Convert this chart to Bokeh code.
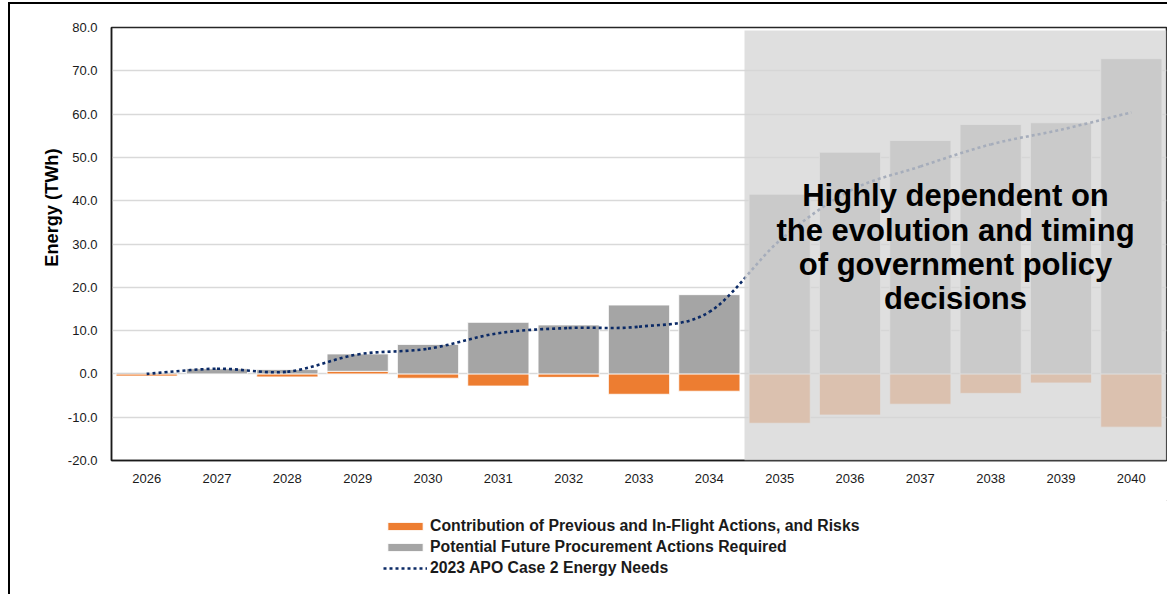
import numpy as np
from bokeh.plotting import figure
from bokeh.layouts import column
from bokeh.models import (Range1d, FixedTicker, NumeralTickFormatter, BoxAnnotation,
                          Label, Legend, LegendItem, ColumnDataSource, Title)
from bokeh.embed import file_html
from bokeh.resources import INLINE

# ---------------- data ----------------
years = [str(y) for y in range(2026, 2041)]
contribution = [-0.5, 0.0, -0.7, 0.6, -1.0, -2.8, -0.8, -4.7, -4.0,
                -11.4, -9.5, -7.0, -4.5, -2.1, -12.3]
procurement = [0.3, 1.2, 1.0, 4.0, 6.8, 11.9, 11.3, 15.9, 18.3,
               41.5, 51.2, 53.9, 57.6, 58.0, 72.8]
energy_needs = [0.0, 1.2, 0.5, 4.5, 5.8, 9.4, 10.6, 10.9, 14.3,
                30.8, 42.3, 47.9, 53.0, 56.4, 60.4]
y_ticks = [-20, -10, 0, 10, 20, 30, 40, 50, 60, 70, 80]
series_names = ["Contribution of Previous and In-Flight Actions, and Risks",
                "Potential Future Procurement Actions Required",
                "2023 APO Case 2 Energy Needs"]
shade_from = "2035"
note_lines = ["Highly dependent on", "the evolution and timing",
              "of government policy", "decisions"]
y_label = "Energy (TWh)"

ORANGE = "#ed7d31"
GRAY = "#a5a5a5"
NAVY = "#0b2a66"
FONT = "Liberation Sans"
W = 1157

n = len(years)
xc = np.arange(n) + 0.5
contrib = np.array(contribution)
proc = np.array(procurement)
gray_bottom = np.maximum(contrib, 0.0)
gray_top = gray_bottom + proc

p = figure(width=W, height=496, x_range=Range1d(0, n), y_range=Range1d(-20, 80),
           output_backend="svg", toolbar_location=None,
           min_border_left=101, min_border_right=1, min_border_top=23, min_border_bottom=40)
p.background_fill_color = "white"
p.border_fill_color = "white"
p.outline_line_color = "#262626"
p.outline_line_width = 1.5

# axes
p.xaxis.ticker = FixedTicker(ticks=list(xc))
p.xaxis.major_label_overrides = {float(x): y for x, y in zip(xc, years)}
p.yaxis.ticker = FixedTicker(ticks=y_ticks)
p.yaxis.formatter = NumeralTickFormatter(format="0.0")
for ax in (p.xaxis, p.yaxis):
    ax.major_tick_line_color = None
    ax.minor_tick_line_color = None
    ax.axis_line_color = "#1a1a1a"
    ax.axis_line_width = 1.5
    ax.major_label_text_font = FONT
    ax.major_label_text_font_size = "13px"
    ax.major_label_text_color = "#1a1a1a"
p.xaxis.major_label_standoff = 7
p.yaxis.major_label_standoff = 8
p.xgrid.grid_line_color = None
p.ygrid.grid_line_color = "#d9d9d9"
p.ygrid.grid_line_width = 1.3

# bars
src = ColumnDataSource(dict(x=xc, contrib=contrib, gb=gray_bottom, gt=gray_top))
bar_or = dict(fill_color=ORANGE, line_color="white", line_width=0.8)
bar_gr = dict(fill_color=GRAY, line_color="white", line_width=0.8)
p.vbar(x="x", width=0.87, top="contrib", bottom=0, source=src, **bar_or)
p.vbar(x="x", width=0.87, top="gt", bottom="gb", source=src, **bar_gr)

# smoothed line (Catmull-Rom bezier through the data points)
yn = np.array(energy_needs)
xp = np.concatenate([[xc[0]], xc, [xc[-1]]])
yp = np.concatenate([[yn[0]], yn, [yn[-1]]])
x0, y0 = xp[1:-2], yp[1:-2]
x1, y1 = xp[2:-1], yp[2:-1]
cx0 = x0 + (xp[2:-1] - xp[0:-3]) / 6.0
cy0 = y0 + (yp[2:-1] - yp[0:-3]) / 6.0
cx1 = x1 - (xp[3:] - xp[1:-2]) / 6.0
cy1 = y1 - (yp[3:] - yp[1:-2]) / 6.0
bsrc = ColumnDataSource(dict(x0=x0, y0=y0, x1=x1, y1=y1, cx0=cx0, cy0=cy0, cx1=cx1, cy1=cy1))
line_style = dict(line_color=NAVY, line_width=2.6, line_dash="3 3")
p.bezier(x0="x0", y0="y0", x1="x1", y1="y1", cx0="cx0", cy0="cy0",
         cx1="cx1", cy1="cy1", source=bsrc, **line_style)

# shaded future region
i0 = years.index(shade_from)
shade = BoxAnnotation(left=i0, right=n, bottom=-20, top=79.3,
                      fill_color="#d6d6d6", fill_alpha=0.77, line_alpha=0)
p.add_layout(shade)

# note text
note_x = (i0 + n) / 2.0
for k, line in enumerate(note_lines):
    p.add_layout(Label(x=note_x, y=41.1 - 7.9 * k, text=line, text_align="center",
                       text_baseline="alphabetic", text_font=FONT,
                       text_font_size="31px", text_font_style="bold",
                       text_color="black"))

# y axis label (as a left-side title)
ttl = Title(text=y_label, align="right", offset=121, standoff=6, text_font=FONT,
            text_font_size="18.2px", text_font_style="bold", text_color="black")
p.add_layout(ttl, "left")

# ---------------- legend strip (separate figure below) ----------------
# the same series are drawn here, but the view range sits away from the data,
# so only the legend glyphs are visible
lg = figure(width=W, height=94, x_range=Range1d(-3, -2), y_range=Range1d(-300, -200),
            output_backend="svg", toolbar_location=None,
            min_border=0, min_border_left=0, min_border_right=0,
            min_border_top=0, min_border_bottom=0)
lg.axis.visible = False
lg.grid.visible = False
lg.outline_line_color = None
lg.background_fill_color = "white"
lg.border_fill_color = "white"
l_or = lg.vbar(x="x", width=0.87, top="contrib", bottom=0, source=src, **bar_or)
l_gr = lg.vbar(x="x", width=0.87, top="gt", bottom="gb", source=src, **bar_gr)
l_ln = lg.bezier(x0="x0", y0="y0", x1="x1", y1="y1", cx0="cx0", cy0="cy0",
                 cx1="cx1", cy1="cy1", source=bsrc, **line_style)
legend = Legend(items=[LegendItem(label=series_names[0], renderers=[l_or]),
                       LegendItem(label=series_names[1], renderers=[l_gr]),
                       LegendItem(label=series_names[2], renderers=[l_ln])],
                location=(272, 16), orientation="vertical",
                label_text_font=FONT, label_text_font_size="15.8px",
                label_text_font_style="bold", label_text_color="#1a1a1a",
                glyph_width=44, glyph_height=10, label_height=21,
                label_standoff=3, spacing=0, padding=0, margin=0,
                border_line_color=None, background_fill_alpha=0)
lg.add_layout(legend, "center")

layout = column(p, lg, spacing=0)
layout.styles = {"border-left": "2px solid black", "border-top": "2px solid black",
                 "margin-left": "8px", "margin-top": "2px"}

open("out.html", "w").write(file_html(layout, INLINE))
